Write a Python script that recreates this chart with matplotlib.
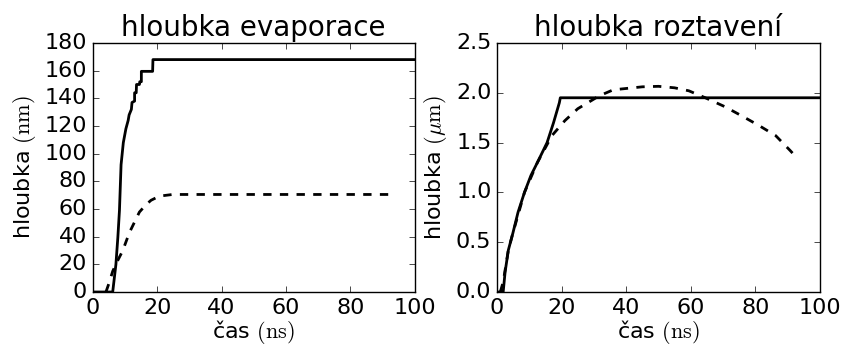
import matplotlib
matplotlib.use("Agg")
import matplotlib.pyplot as plt

# left panel: evaporation depth (nm)
evap_t_solid = [0, 6.2, 7.2, 7.8, 8.3, 8.8, 9.5, 10.3, 11.0, 11.3, 12.0, 12.2, 13.0, 13.0, 13.5,
                13.6, 14.5, 14.6, 15.1, 15.1, 18.6, 18.7, 100]
evap_d_solid = [0, 0, 20, 39.5, 59, 92, 108, 118, 124, 128, 132, 137, 138, 144, 144,
                150, 150, 152, 152, 159.5, 159.5, 168, 168]
evap_t_dash = [4.1, 5.0, 6.2, 7.7, 9.3, 11.4, 14.5, 16.5, 18.1, 20.7, 24.8, 30, 92]
evap_d_dash = [0, 6, 15, 22.5, 29.8, 43, 57.8, 63, 66.3, 69.3, 70.5, 70.5, 70.5]

# right panel: melt depth (um)
melt_t_solid = [0, 1.9, 2.5, 3.5, 4.9, 6.5, 8.5, 10.5, 12.5, 15.5, 17.5, 19.3, 19.6, 100]
melt_d_solid = [0, 0, 0.2, 0.42, 0.59, 0.8, 1.0, 1.17, 1.3, 1.5, 1.7, 1.9, 1.95, 1.95]
melt_t_dash = [1.0, 1.9, 3.5, 4.9, 8.5, 12.5, 17, 21, 25, 31.7, 36, 45, 50, 55, 59.4, 64.5,
               70.6, 75.7, 81.2, 86.3, 90.8, 92.5]
melt_d_dash = [0, 0.1, 0.42, 0.59, 1.0, 1.3, 1.57, 1.72, 1.84, 1.97, 2.03, 2.06, 2.065, 2.05,
               2.02, 1.95, 1.86, 1.77, 1.67, 1.57, 1.42, 1.36]

plt.style.use('classic')
plt.rcParams['mathtext.fontset'] = 'cm'
plt.rcParams['font.size'] = 16

fig = plt.figure(figsize=(8.43, 3.47), dpi=100, facecolor='white')
ax1 = fig.add_axes([0.110, 0.1585, 0.382, 0.7176])
ax2 = fig.add_axes([0.5896, 0.1585, 0.383, 0.7176])

ax1.plot(evap_t_solid, evap_d_solid, 'k-', lw=2)
ax1.plot(evap_t_dash, evap_d_dash, 'k--', lw=2)
ax1.set_xlim(0, 100)
ax1.set_ylim(0, 180)
ax1.set_yticks(range(0, 181, 20))
ax1.set_title('hloubka evaporace', fontsize=20)
ax1.set_xlabel(r'čas $(\mathrm{ns})$', fontsize=16, labelpad=0)
ax1.set_ylabel(r'hloubka $(\mathrm{nm})$', fontsize=16)

ax2.plot(melt_t_solid, melt_d_solid, 'k-', lw=2)
ax2.plot(melt_t_dash, melt_d_dash, 'k--', lw=2)
ax2.set_xlim(0, 100)
ax2.set_ylim(0, 2.5)
ax2.set_yticks([0.0, 0.5, 1.0, 1.5, 2.0, 2.5])
ax2.set_title('hloubka roztavení', fontsize=20)
ax2.set_xlabel(r'čas $(\mathrm{ns})$', fontsize=16, labelpad=0)
ax2.set_ylabel(r'hloubka $(\mu\mathrm{m})$', fontsize=16)

for ax in (ax1, ax2):
    ax.tick_params(labelsize=16)

fig.savefig('out.png', dpi=100, facecolor='white')
